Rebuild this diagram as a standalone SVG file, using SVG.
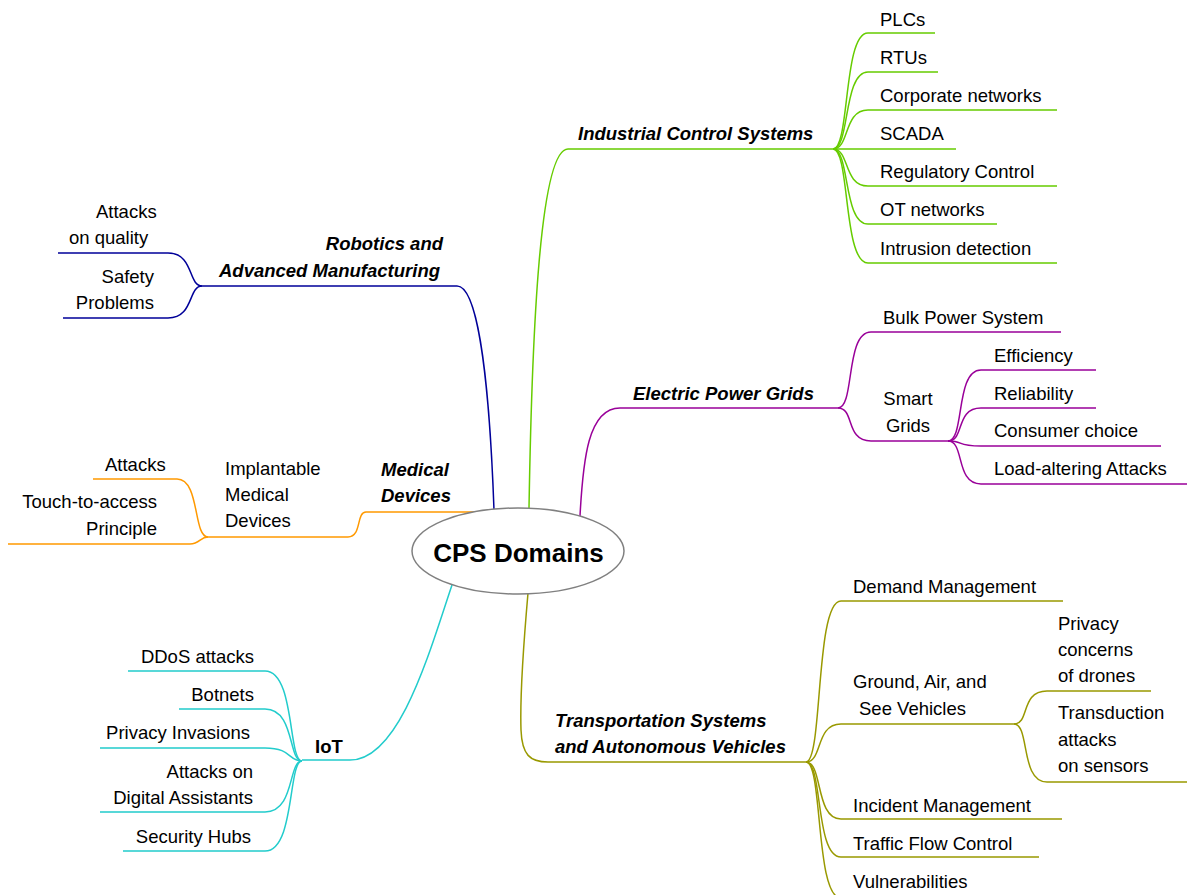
<svg xmlns="http://www.w3.org/2000/svg" width="1187" height="895" viewBox="0 0 1187 895">
<style>
text{font-family:"Liberation Sans",Arial,sans-serif;font-size:18.5px;fill:#000}
.b{font-weight:bold;font-style:italic}
.e{text-anchor:end}
.c{text-anchor:middle}
path{fill:none;stroke-width:1.5}
.ics{stroke:#66cc00}.epg{stroke:#990099}.tr{stroke:#999900}.rob{stroke:#000099}.med{stroke:#ff9900}.iot{stroke:#22cccc}
</style>
<rect width="1187" height="895" fill="#fff"/>
<g id="connectors">
<!-- ICS -->
<path class="ics" d="M529,508 C532,330 540,149 568,149 H833"/>
<path class="ics" d="M833,149 C850,149 843,33 868,33 H935"/>
<path class="ics" d="M833,149 C850,149 843,72 868,72 H938"/>
<path class="ics" d="M833,149 C850,149 843,110 868,110 H1057"/>
<path class="ics" d="M833,149 H956"/>
<path class="ics" d="M833,149 C850,149 843,186 868,186 H1057"/>
<path class="ics" d="M833,149 C850,149 843,224 868,224 H997"/>
<path class="ics" d="M833,149 C850,149 843,263 868,263 H1057"/>
<!-- EPG -->
<path class="epg" d="M580,516 C583,460 588,408 620,408 H838"/>
<path class="epg" d="M838,408 C855,408 845,332 871,332 H1061"/>
<path class="epg" d="M838,408 C855,408 845,441 871,441 H948"/>
<path class="epg" d="M948,441 C965,441 955,370 981,370 H1096"/>
<path class="epg" d="M948,441 C965,441 955,408 981,408 H1096"/>
<path class="epg" d="M948,441 C965,441 955,446 981,446 H1161"/>
<path class="epg" d="M948,441 C965,441 955,484 981,484 H1187"/>
<!-- Transportation -->
<path class="tr" d="M528,593 C523,650 520,700 521,730 C522,755 530,762 548,762 H806"/>
<path class="tr" d="M806,762 C823,762 815,601 841,601 H1063"/>
<path class="tr" d="M806,762 C823,762 815,724 841,724 H1014"/>
<path class="tr" d="M1014,724 C1030,724 1020,691 1047,691 H1151"/>
<path class="tr" d="M1014,724 C1030,724 1020,782 1047,782 H1187"/>
<path class="tr" d="M806,762 C823,762 815,819 841,819 H1062"/>
<path class="tr" d="M806,762 C823,762 815,857 841,857 H1039"/>
<path class="tr" d="M806,762 C823,762 815,898 841,898 H1000"/>
<!-- Robotics -->
<path class="rob" d="M494,510 C490,400 480,286 457,286 H202"/>
<path class="rob" d="M202,286 C188,286 194,253 168,253 H58"/>
<path class="rob" d="M202,286 C188,286 194,318 168,318 H63"/>
<!-- Medical -->
<path class="med" d="M478,512 H366 C356,512 362,537 348,537 H208"/>
<path class="med" d="M208,537 C193,537 200,479 177,479 H93"/>
<path class="med" d="M208,537 C200,537 200,544 190,544 H8"/>
<!-- IoT -->
<path class="iot" d="M452,585 C430,650 400,760 350,760 H302"/>
<path class="iot" d="M302,761 C288,761 295,671 265,671 H128"/>
<path class="iot" d="M302,761 C288,761 295,709 265,709 H179"/>
<path class="iot" d="M302,761 C288,761 292,748 265,748 H100"/>
<path class="iot" d="M302,761 C288,761 295,812 265,812 H100"/>
<path class="iot" d="M302,761 C288,761 295,851 265,851 H123"/>
</g>
<g id="center">
<ellipse cx="518" cy="551" rx="106" ry="43" fill="#fff" stroke="#808080" stroke-width="1.5"/>
<text x="518.5" y="562" class="c" style="font-size:26px;font-weight:bold">CPS Domains</text>
</g>
<g id="ics">
<text x="578" y="140" class="b">Industrial Control Systems</text>
</g>
<g id="ics-children">
<text x="880" y="25.5">PLCs</text>
<text x="880" y="64">RTUs</text>
<text x="880" y="102">Corporate networks</text>
<text x="880" y="140">SCADA</text>
<text x="880" y="178">Regulatory Control</text>
<text x="880" y="216">OT networks</text>
<text x="880" y="255">Intrusion detection</text>
</g>
<g id="epg">
<text x="633" y="400" class="b">Electric Power Grids</text>
</g>
<g id="epg-children">
<text x="883" y="324">Bulk Power System</text>
<text x="908" y="405" class="c">Smart</text>
<text x="908" y="432" class="c">Grids</text>
<text x="994" y="362">Efficiency</text>
<text x="994" y="400">Reliability</text>
<text x="994" y="437">Consumer choice</text>
<text x="994" y="475">Load-altering Attacks</text>
</g>
<g id="transport">
<text x="555" y="727" class="b">Transportation Systems</text>
<text x="555" y="753" class="b">and Autonomous Vehicles</text>
</g>
<g id="transport-children">
<text x="853" y="593">Demand Management</text>
<text x="853" y="688">Ground, Air, and</text>
<text x="859" y="715">See Vehicles</text>
<text x="1058" y="630">Privacy</text>
<text x="1058" y="656">concerns</text>
<text x="1058" y="682">of drones</text>
<text x="1058" y="719">Transduction</text>
<text x="1058" y="746">attacks</text>
<text x="1058" y="772">on sensors</text>
<text x="853" y="812">Incident Management</text>
<text x="853" y="850">Traffic Flow Control</text>
<text x="853" y="888">Vulnerabilities</text>
</g>
<g id="robotics">
<text x="443" y="250" class="b e">Robotics and</text>
<text x="440" y="277" class="b e">Advanced Manufacturing</text>
</g>
<g id="robotics-children">
<text x="96" y="218">Attacks</text>
<text x="69" y="244">on quality</text>
<text x="154" y="283" class="e">Safety</text>
<text x="154" y="309" class="e">Problems</text>
</g>
<g id="medical">
<text x="381" y="476" class="b">Medical</text>
<text x="381" y="502" class="b">Devices</text>
</g>
<g id="medical-children">
<text x="225" y="475">Implantable</text>
<text x="225" y="501">Medical</text>
<text x="225" y="527">Devices</text>
<text x="105" y="471">Attacks</text>
<text x="157" y="508" class="e">Touch-to-access</text>
<text x="157" y="535" class="e">Principle</text>
</g>
<g id="iot">
<text x="315" y="753" style="font-weight:bold">IoT</text>
</g>
<g id="iot-children">
<text x="254" y="663" class="e">DDoS attacks</text>
<text x="254" y="701" class="e">Botnets</text>
<text x="250" y="739" class="e">Privacy Invasions</text>
<text x="253" y="778" class="e">Attacks on</text>
<text x="253" y="804" class="e">Digital Assistants</text>
<text x="251" y="843" class="e">Security Hubs</text>
</g>
</svg>
